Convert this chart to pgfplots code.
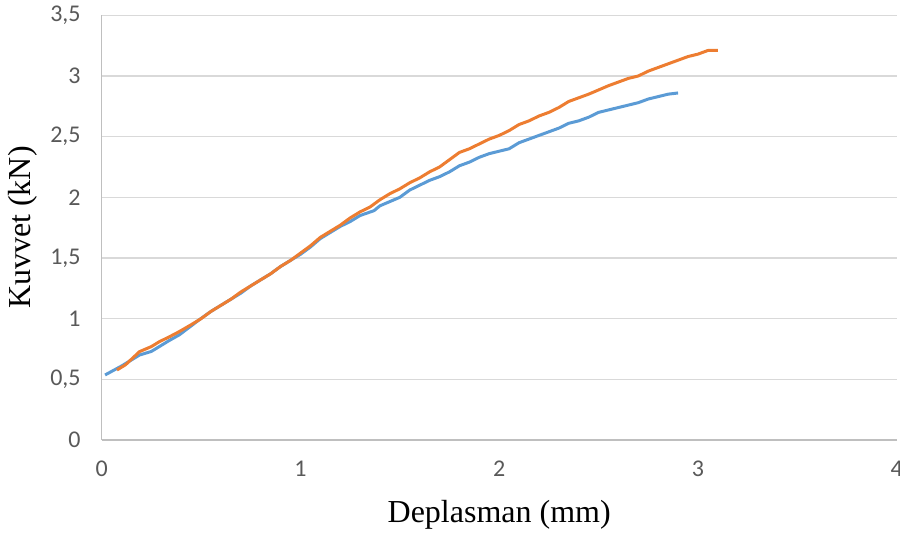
\documentclass[border=0pt]{standalone}
\usepackage{fontspec}
\setmainfont{Liberation Serif}
\newfontfamily\tickfont{Carlito}
\usepackage{pgfplots}
\pgfplotsset{compat=1.18}
\definecolor{xlblue}{HTML}{5B9BD5}
\definecolor{xlorange}{HTML}{ED7D31}
\definecolor{gridgray}{HTML}{D9D9D9}
\definecolor{axisgray}{HTML}{BFBFBF}
\definecolor{tickgray}{HTML}{595959}
\begin{document}
\begin{tikzpicture}
\begin{axis}[
  scale only axis,
  width=397.5pt, height=212.35pt,
  xmin=0, xmax=4, ymin=0, ymax=3.5,
  xtick={0,1,2,3,4},
  ytick={0,0.5,1,1.5,2,2.5,3,3.5},
  yticklabels={0,{0,5},1,{1,5},2,{2,5},3,{3,5}},
  major tick length=0pt,
  ymajorgrids,
  grid style={gridgray, line width=0.75pt},
  axis lines*=left,
  axis line style={-, axisgray, line width=0.75pt},
  ticklabel style={font=\tickfont\fontsize{12}{14}\selectfont, text=tickgray},
  yticklabel style={xshift=-7pt},
  xticklabel style={yshift=-7pt},
  /pgf/number format/assume math mode=true,
  xlabel={Deplasman (mm)},
  ylabel={Kuvvet (kN)},
  label style={font=\fontsize{16}{19}\selectfont},
  xlabel style={at={([yshift=-37.5pt]rel axis cs:0.5,0)}, anchor=center},
  ylabel style={at={([xshift=-39.4pt]rel axis cs:0,0.5)}, anchor=center},
  clip=false,
]
\addplot[xlblue, line width=1.5pt, line join=round] coordinates {
(0.017,0.536) (0.1,0.61) (0.19,0.70) (0.25,0.73) (0.29,0.77) (0.34,0.82)
(0.39,0.866) (0.45,0.94) (0.49,0.99) (0.55,1.06) (0.6,1.11) (0.65,1.16)
(0.7,1.21) (0.75,1.27) (0.8,1.32) (0.85,1.37) (0.9,1.43) (0.95,1.48)
(1.0,1.53) (1.05,1.59) (1.1,1.66) (1.15,1.71) (1.2,1.76) (1.25,1.80)
(1.3,1.85) (1.37,1.89) (1.4,1.93) (1.45,1.965) (1.5,2.00) (1.55,2.06)
(1.6,2.10) (1.65,2.14) (1.7,2.17) (1.75,2.21) (1.8,2.26) (1.85,2.29)
(1.9,2.33) (1.95,2.36) (2.0,2.38) (2.05,2.40) (2.1,2.45) (2.15,2.48)
(2.2,2.51) (2.25,2.54) (2.3,2.57) (2.35,2.61) (2.4,2.63) (2.45,2.66)
(2.5,2.70) (2.55,2.72) (2.6,2.74) (2.65,2.76) (2.7,2.78) (2.75,2.81)
(2.8,2.83) (2.85,2.85) (2.9,2.86)
};
\addplot[xlorange, line width=1.5pt, line join=round] coordinates {
(0.077,0.577) (0.12,0.62) (0.19,0.728) (0.25,0.77) (0.29,0.81) (0.34,0.85)
(0.39,0.893) (0.45,0.95) (0.5,1.0) (0.55,1.06) (0.6,1.11) (0.65,1.16)
(0.7,1.22) (0.75,1.27) (0.8,1.32) (0.85,1.37) (0.9,1.43) (0.95,1.48)
(1.0,1.54) (1.05,1.60) (1.1,1.67) (1.15,1.72) (1.2,1.77) (1.25,1.83)
(1.3,1.88) (1.35,1.92) (1.4,1.98) (1.45,2.03) (1.5,2.07) (1.55,2.12)
(1.6,2.16) (1.65,2.21) (1.7,2.25) (1.75,2.31) (1.8,2.37) (1.85,2.40)
(1.9,2.44) (1.95,2.48) (2.0,2.51) (2.05,2.55) (2.1,2.60) (2.15,2.63)
(2.2,2.67) (2.25,2.70) (2.3,2.74) (2.35,2.79) (2.4,2.82) (2.45,2.85)
(2.5,2.885) (2.55,2.92) (2.6,2.95) (2.65,2.98) (2.7,3.00) (2.75,3.04)
(2.8,3.07) (2.85,3.10) (2.9,3.13) (2.95,3.16) (3.0,3.18) (3.05,3.21)
(3.1,3.21)
};
\coordinate (sw) at (rel axis cs:0,0);
\coordinate (ne) at (rel axis cs:1,1);
\end{axis}
\pgfresetboundingbox
\useasboundingbox ([xshift=-50.85pt, yshift=-47.5pt]sw) rectangle ([xshift=1.65pt, yshift=7.65pt]ne);
\end{tikzpicture}
\end{document}
